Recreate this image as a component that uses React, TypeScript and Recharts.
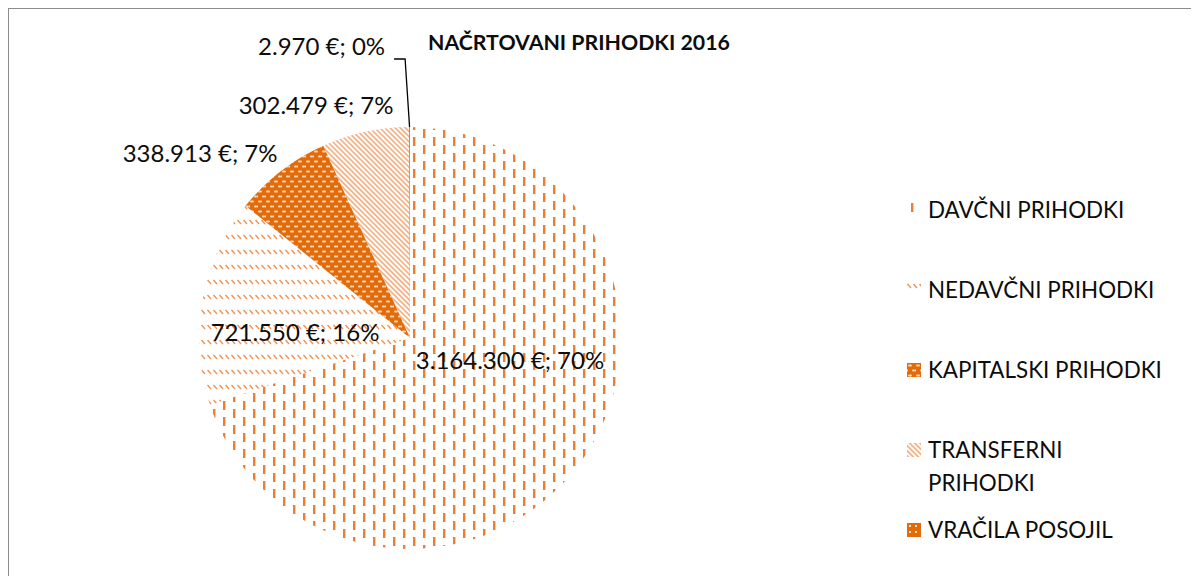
import { PieChart, Pie, Cell, Legend } from "recharts";

const categories = [
  "DAVČNI PRIHODKI",
  "NEDAVČNI PRIHODKI",
  "KAPITALSKI PRIHODKI",
  "TRANSFERNI PRIHODKI",
  "VRAČILA POSOJIL",
];
const amounts = [3164300, 721550, 338913, 302479, 2970];
const patternIds = ["pDavcni", "pNedavcni", "pKapitalski", "pTransferni", "pVracila"];

// label spots, in units of the pie radius, relative to the centre
const labelSpots = [
  { dx: 0.474, dy: 0.104, anchor: "middle" },
  { dx: -0.545, dy: -0.033, anchor: "middle" },
  { dx: -0.995, dy: -0.877, anchor: "middle" },
  { dx: -0.445, dy: -1.109, anchor: "middle" },
  { dx: -0.118, dy: -1.384, anchor: "end" },
];

const ORANGE = "#ED7D31";
const DARK = "#E36C0A";
const FONT = "Lato, 'Open Sans', sans-serif";

const data = categories.map((name, i) => ({ name, value: amounts[i] }));

const fmt = (v: number) => String(v).replace(/\B(?=(\d{3})+(?!\d))/g, ".");

function Patterns() {
  return (
    <svg width={0} height={0} style={{ position: "absolute" }}>
      <defs>
        <pattern id="pDavcni" width={20} height={16} patternUnits="userSpaceOnUse">
          <rect x={4} y={0} width={2.4} height={9} fill={ORANGE} />
          <rect x={14} y={8} width={2.4} height={8} fill={ORANGE} />
          <rect x={14} y={0} width={2.4} height={1} fill={ORANGE} />
        </pattern>
        <pattern id="pNedavcni" width={6} height={15} patternUnits="userSpaceOnUse">
          <line x1={0.5} y1={1} x2={4} y2={5} stroke={ORANGE} strokeWidth={1.4} strokeOpacity={0.85} />
        </pattern>
        <pattern id="pKapitalski" width={8} height={10} patternUnits="userSpaceOnUse">
          <rect x={0} y={0} width={8} height={10} fill={DARK} />
          <rect x={1} y={1.5} width={4} height={2} rx={1} fill="#fff" fillOpacity={0.75} />
          <rect x={5} y={6.5} width={3} height={2} rx={1} fill="#fff" fillOpacity={0.75} />
          <rect x={0} y={6.5} width={1} height={2} fill="#fff" fillOpacity={0.75} />
        </pattern>
        <pattern
          id="pTransferni"
          width={3.6}
          height={10}
          patternUnits="userSpaceOnUse"
          patternTransform="rotate(-45)"
        >
          <line x1={1.8} y1={0} x2={1.8} y2={10} stroke={ORANGE} strokeWidth={1.2} strokeOpacity={0.85} />
        </pattern>
        <pattern id="pVracila" width={6} height={6} patternUnits="userSpaceOnUse">
          <rect x={0} y={0} width={6} height={6} fill={DARK} />
          <rect x={2} y={2} width={2} height={2} fill="#fff" fillOpacity={0.8} />
        </pattern>
      </defs>
    </svg>
  );
}

const renderLabel = (p: any) => {
  const { cx, cy, outerRadius, index, value, percent, midAngle } = p;
  const spot = labelSpots[index];
  const x = cx + spot.dx * outerRadius;
  const y = cy + spot.dy * outerRadius;
  const text = `${fmt(value)} €; ${Math.round(percent * 100)}%`;
  let leader = null;
  if (index === 4) {
    const rad = Math.PI / 180;
    const ex = cx + outerRadius * Math.cos(-midAngle * rad);
    const ey = cy + outerRadius * Math.sin(-midAngle * rad);
    const ly = y + 13;
    leader = (
      <polyline
        points={`${x + 9},${ly} ${x + 20},${ly} ${ex},${ey}`}
        fill="none"
        stroke="#000"
        strokeWidth={1.3}
      />
    );
  }
  return (
    <g>
      {leader}
      <text
        x={x}
        y={y}
        textAnchor={spot.anchor}
        dominantBaseline="central"
        fontSize={24}
        fontFamily={FONT}
        fill="#0d0d0d"
      >
        {text}
      </text>
    </g>
  );
};

const renderLegend = () => (
  <div style={{ fontFamily: FONT, fontSize: 22.4, color: "#0d0d0d" }}>
    {categories.map((name, i) => (
      <div key={name} style={{ display: "flex", alignItems: "flex-start", height: 80 }}>
        <svg width={14} height={14} style={{ marginTop: 10, marginRight: 7, flexShrink: 0 }}>
          <rect x={0} y={0} width={14} height={14} fill={`url(#${patternIds[i]})`} />
        </svg>
        <span style={{ lineHeight: "33px", width: 236 }}>{name}</span>
      </div>
    ))}
  </div>
);

export default function App() {
  return (
    <div
      style={{
        position: "relative",
        left: -1,
        top: -1,
        width: 1184,
        height: 569,
        boxSizing: "border-box",
        borderLeft: "2px solid #8c8c8c",
        borderTop: "2px solid #8c8c8c",
        overflow: "hidden",
        background: "#fff",
        fontFamily: FONT,
      }}
    >
      <Patterns />
      <div
        style={{
          position: "absolute",
          left: 419,
          top: 21,
          fontSize: 21.3,
          fontWeight: 700,
          lineHeight: "24px",
          color: "#0d0d0d",
          whiteSpace: "nowrap",
        }}
      >
        NAČRTOVANI PRIHODKI 2016
      </div>
      <PieChart width={1182} height={567} margin={{ top: 0, right: 0, bottom: 0, left: 0 }}>
        <Pie
          data={data}
          dataKey="value"
          nameKey="name"
          cx={401}
          cy={329}
          outerRadius={211}
          startAngle={90}
          endAngle={-270}
          stroke="none"
          label={renderLabel}
          labelLine={false}
          isAnimationActive={false}
        >
          {data.map((d, i) => (
            <Cell key={d.name} fill={`url(#${patternIds[i]})`} />
          ))}
        </Pie>
        <Legend
          content={renderLegend}
          wrapperStyle={{ left: 898, top: 184, width: 280 }}
        />
      </PieChart>
    </div>
  );
}
